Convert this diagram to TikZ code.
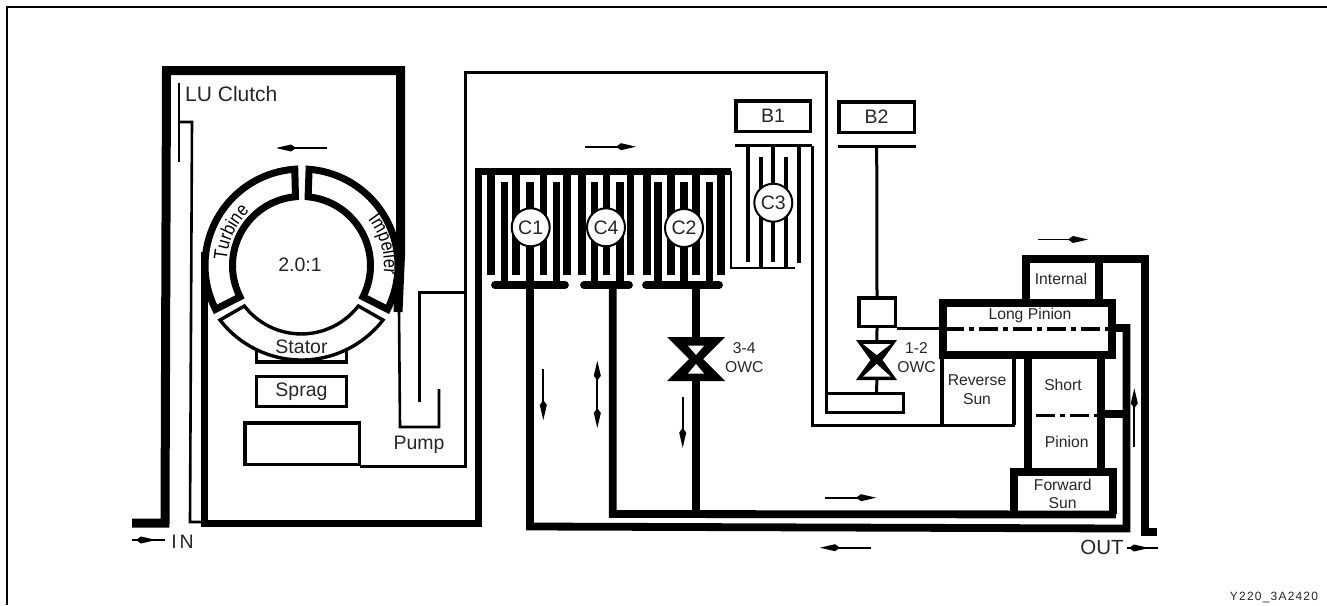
\documentclass[tikz,border=0pt]{standalone}
\usepackage{fontspec}
\setmainfont{Liberation Sans}
\newfontfamily\platefont[LetterSpace=10]{Liberation Sans}
\newfontfamily\ringfamily[FakeStretch=0.86]{Liberation Sans}
\usetikzlibrary{arrows.meta,calc,decorations.text}
\definecolor{LabelInk}{HTML}{262626}
\newcommand{\partfont}{\fontsize{19.5}{22}\selectfont}
\newcommand{\smallpartfont}{\fontsize{15.7}{18.7}\selectfont}
\newcommand{\ringfont}{\ringfamily\fontsize{19}{20}\selectfont}
\tikzset{
  housing/.style={line width=9pt,miter limit=20},
  shaft/.style={line width=7.8pt},
  shell/.style={line width=7pt,miter limit=20},
  thinwall/.style={line width=3pt},
  plate/.style={line width=7.6pt},
  fineplate/.style={line width=3.6pt},
  partbox/.style={draw,line width=3.5pt,inner sep=0pt,text=LabelInk,font=\partfont},
  clutchtag/.style={circle,draw,fill=white,line width=2pt,minimum size=38pt,inner sep=0pt,text=LabelInk,font=\partfont},
  partlabel/.style={text=LabelInk,font=\partfont,inner sep=0pt},
  gearlabel/.style={text=LabelInk,font=\smallpartfont,inner sep=0pt,align=center},
  axisline/.style={line width=3.2pt,dash pattern=on 19pt off 5pt on 5pt off 5pt},
  flowarrow/.style={line width=1.8pt,-{Kite[length=20pt,width=7pt,inset=5pt]}},
  bothflow/.style={line width=1.8pt,{Kite[length=20pt,width=7pt,inset=5pt]}-{Kite[length=20pt,width=7pt,inset=5pt]}}
}
\begin{document}
\begin{tikzpicture}[x=1pt,y=-1pt]
\useasboundingbox (0,0) rectangle (1327,605);
\draw[line width=1.8pt] (7,605) -- (7,7) -- (1327,7);
\coordinate (tor) at (301.5,265.5);
\coordinate (impelbase) at (309,265.5);
\coordinate (C1hub) at (530,285);
\coordinate (C4hub) at (612.7,285);
\coordinate (C2hub) at (696,285);
\coordinate (C1end) at (530,526.5);
\coordinate (C4end) at (612.7,514);
\coordinate (C2end) at (696,514);
\coordinate (outerend) at (1126.5,528.5);
\coordinate (sunend) at (1116,514.5);
\draw[housing] (132,523) -- (165,523) -- (166.5,70.5) -- (400.5,70.5) -- (400.5,255) -- (398,312);
\draw[shell] (204,252) -- (204,523.5) -- (478.5,523.5) -- (478.5,171) -- (731,171);
\draw[thinwall,line width=2.6pt] (179,83) -- (179,162);
\draw[thinwall,line width=2.6pt] (179,122) -- (192,122) -- (190,522) -- (204,522);
\draw[thinwall,line width=2.6pt] (399,310) -- (400,427) -- (439,427) -- (439,389);
\draw[thinwall] (419,402) -- (419,292) -- (465.5,292);
\draw[thinwall] (360,466) -- (465.5,466) -- (465.5,72) -- (826,72) -- (826,412) -- (903,412) -- (903,393.5) -- (826,393.5);
\draw[shell] ($(tor)+(94:96.5pt)$) arc[start angle=94,end angle=207,radius=96.5pt] -- ($(tor)+(207:69pt)$) arc[start angle=207,end angle=95,radius=69pt] -- cycle;
\draw[shell] ($(tor)+(85.5:96.5pt)$) arc[start angle=85.5,end angle=-27,radius=96.5pt] -- ($(tor)+(-27:69pt)$) arc[start angle=-27,end angle=84.5,radius=69pt] -- cycle;
\draw[thinwall,line width=3.2pt] (256.5,350) -- (256.5,362) -- (346.5,362) -- (346.5,350);
\draw[thinwall,line width=3.4pt,fill=white] (220,320) arc[start angle=217.7,end angle=322.3,radius=103pt] -- (358.3,306) arc[start angle=322.3,end angle=217.7,radius=72pt] -- cycle;
\path[decorate,decoration={text along path,text align=center,text={|\ringfont|Turbine}}] ($(tor)+(178:75pt)$) arc[start angle=178,end angle=132,radius=75pt];
\path[decorate,decoration={text along path,text align=center,text={|\ringfont|Impeller}}] ($(impelbase)+(44:75pt)$) arc[start angle=44,end angle=-12,radius=75pt];
\foreach \px in {490.7,516,543.3,567,582,606.3,630.3,646.7,671,696,720.7}
  \draw[plate] (\px,172) -- (\px,275);
\foreach \px in {504.3,529.7,556.3,594.3,619.7,657.7,684,709.3}
  \draw[plate] (\px,285) -- (\px,181.7);
\draw[shaft,line cap=round] (495,285) -- (565,285);
\draw[shaft,line cap=round] (584,285) -- (629,285);
\draw[shaft,line cap=round] (646,285) -- (719,285);
\draw[shaft] (C1hub) -- (C1end) -- (outerend) -- (1126.5,328) -- (1113,328);
\draw[shaft] (C4hub) -- (C4end) -- (sunend);
\draw[shaft] (C2hub) -- (C2end);
\draw[thinwall,line width=2.6pt] (731,171) -- (731,268) -- (795,268);
\draw[thinwall] (735,145.7) -- (812,145.7);
\draw[thinwall] (812,145.7) -- (812,425) -- (1015,425);
\foreach \px/\ptop/\pbot in {747.7/145.7/262,772.7/145.7/262,799/145.7/263,760.7/157/268,786/157/268}
  \draw[fineplate] (\px,\ptop) -- (\px,\pbot);
\fill (667,337) -- (725,337) -- (703,359) -- (725,381) -- (667,381) -- (689,359) -- cycle;
\fill[white] (688,345.7) -- (704,345.7) -- (696,355) -- cycle;
\fill[white] (688,373.5) -- (704,373.5) -- (696,364) -- cycle;
\node[clutchtag] (C1) at (530.7,227.3) {C1};
\node[clutchtag] (C4) at (606,227.3) {C4};
\node[clutchtag] (C2) at (684,228) {C2};
\node[clutchtag] (C3) at (773.3,202.7) {C3};
\node[partbox,minimum width=74.5pt,minimum height=30.5pt] (B1) at (773,116) {B1};
\node[partbox,minimum width=75.5pt,minimum height=30.5pt] (B2) at (876.5,117) {B2};
\node[partbox,minimum width=89.6pt,minimum height=29.6pt] (sprag) at (301.5,391.5) {Sprag};
\node[partbox,minimum width=114.5pt,minimum height=41.5pt] (coupling) at (302,443.5) {};
\node[partbox,minimum width=36.5pt,minimum height=28.5pt] (carrier) at (877,312) {};
\coordinate (B2disc) at (876.7,146.7);
\draw[thinwall] (838,146.7) -- (916,146.7);
\draw[thinwall] (B2disc) -- (carrier.north);
\draw[thinwall] (carrier.south) -- (876.7,393);
\draw[thinwall] (carrier.south east) -- (942,328);
\fill (856,340) -- (897,340) -- (882.5,360) -- (897,380) -- (856,380) -- (870.5,360) -- cycle;
\fill[white] (863,344) -- (890.7,344) -- (876.7,355) -- cycle;
\fill[white] (863,376.7) -- (890.7,376.7) -- (876.7,364) -- cycle;
\draw[housing,line width=8pt] (942.5,303) rectangle (1112,354.5);
\draw[axisline] (945,329) -- (1110,329);
\draw[thinwall,line width=3.6pt] (942,358) -- (942,425);
\draw[thinwall,line width=3.6pt] (1014,358) -- (1014,425);
\draw[shaft] (1027.7,358) -- (1027.7,470);
\draw[shaft] (1100.7,358) -- (1100.7,470);
\draw[axisline,line width=3pt] (1036,415) -- (1097,415);
\draw[shaft] (1104,414) -- (1124,414);
\draw[shell,line width=8pt] (1014,514) -- (1014,472) -- (1113,472) -- (1113,514);
\draw[housing,line width=7.8pt] (1026,299) -- (1026,259) -- (1145,259) -- (1145,532) -- (1157,532);
\draw[shaft] (1099,259) -- (1099,299);
\node[partlabel,anchor=west,font=\fontsize{21}{22}\selectfont] (luclutch) at (185,94) {LU Clutch};
\node[partlabel] (ratio) at (300,265) {2.0:1};
\node[partlabel] (stator) at (301.5,347) {Stator};
\node[partlabel] (pump) at (419,445) {Pump};
\node[partlabel,font=\fontsize{20.5}{22}\selectfont] (out) at (1102,547) {OUT};
\node[partlabel] (in) at (182.5,542) {I\kern3pt N};
\node[gearlabel] (owcupper) at (744.3,357.5) {3-4\\OWC};
\node[gearlabel] (owclower) at (916.5,357.5) {1-2\\OWC};
\node[gearlabel] (internal) at (1061,279) {Internal};
\node[gearlabel] (longpinion) at (1030,315) {Long Pinion};
\node[gearlabel] (reversesun) at (977,389.5) {Reverse\\Sun};
\node[gearlabel] (short) at (1063,385) {Short};
\node[gearlabel] (pinion) at (1066.7,442) {Pinion};
\node[gearlabel] (forwardsun) at (1062.7,494) {Forward\\Sun};
\node[inner sep=0pt,text=LabelInk,font=\fontsize{12}{14}\selectfont\platefont] (plateid) at (1274,597) {Y220\_3A2420};
\draw[flowarrow] (327,148) -- (276,148);
\draw[flowarrow] (585,146.7) -- (636,146.7);
\draw[flowarrow] (1038,239.5) -- (1088,239.5);
\draw[flowarrow] (825,497.7) -- (876,497.7);
\draw[flowarrow] (870.7,547.7) -- (820,547.7);
\draw[flowarrow] (1134.3,446.7) -- (1134.3,388.3);
\draw[flowarrow] (543.3,369) -- (543.3,420);
\draw[flowarrow] (682.7,396.7) -- (682.7,447.7);
\draw[bothflow] (597.3,360.7) -- (597.3,428);
\draw[line width=1.8pt] (132,540) -- (165,540);
\draw[flowarrow] (134,540) -- (156,540);
\draw[line width=1.8pt] (1126.7,548) -- (1158,548);
\draw[flowarrow] (1128,548) -- (1149,548);
\end{tikzpicture}
\end{document}
